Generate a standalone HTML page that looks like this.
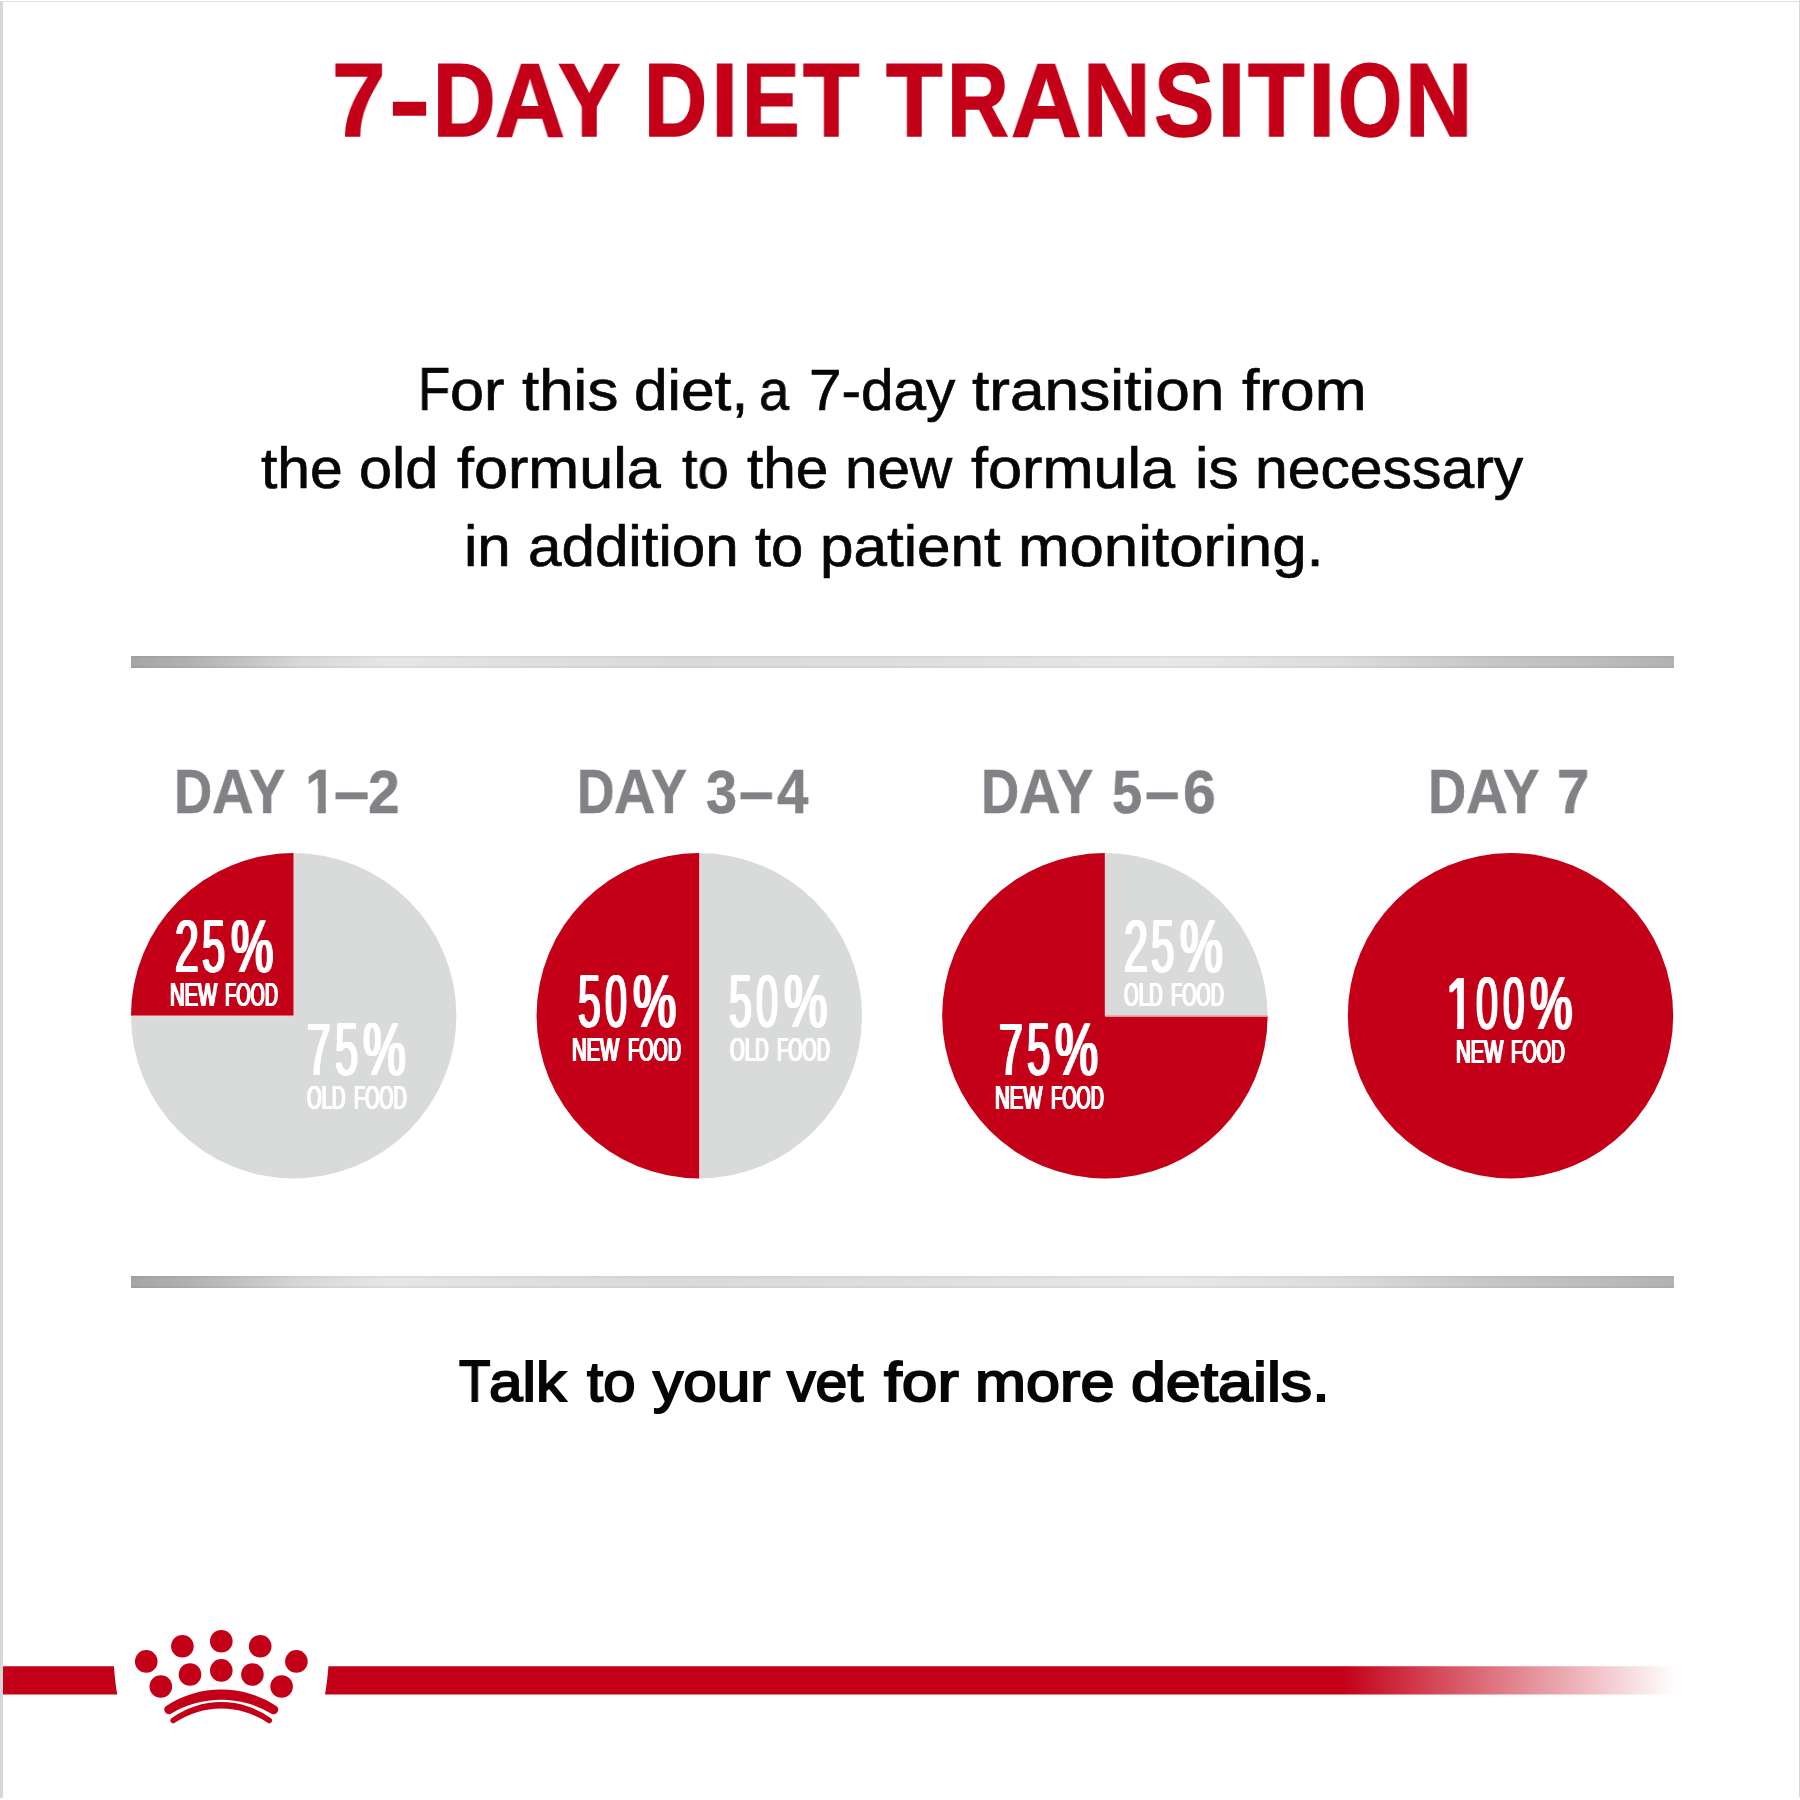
<!DOCTYPE html>
<html><head><meta charset="utf-8"><title>7-Day Diet Transition</title>
<style>
html,body{margin:0;padding:0;background:#fff}
body{width:1800px;height:1800px;position:relative;overflow:hidden;font-family:"Liberation Sans",sans-serif}
.t{will-change:transform;position:absolute;white-space:pre;line-height:1;transform-origin:0 0;font-family:"Liberation Sans",sans-serif}
.rule{position:absolute;left:131px;width:1542.6px;height:12px;background:linear-gradient(180deg,rgba(0,0,0,.045) 0,rgba(0,0,0,.045) 10%,rgba(0,0,0,0) 20%,rgba(0,0,0,0) 80%,rgba(0,0,0,.05) 90%,rgba(0,0,0,.05) 100%),linear-gradient(90deg,#a5a5a8 0%,#b2b2b4 3.8%,#c2c2c4 7.1%,#d8d8d9 11%,#e6e6e6 16.7%,#dfdfdf 25.9%,#dadadb 35.5%,#dedede 49.9%,#e8e8e8 67.2%,#dcdcdc 78.6%,#c8c8c9 87.3%,#babbbd 95.9%,#b2b2b4 100%)}
.g{margin:0;padding:0;font-size:0;line-height:0}
.edge{position:absolute;background:#d9d8d9}
svg{position:absolute;left:0;top:0}
</style></head><body>
<div class="edge" style="left:0;top:1px;width:3px;height:1797px"></div>
<div class="edge" style="left:0;top:1px;width:1800px;height:1px;background:#e2e1e2"></div>
<div class="edge" style="left:1799px;top:0;width:1px;height:1797px"></div>
<div class="rule" style="top:656px"></div>
<div class="rule" style="top:1276px"></div>
<svg width="1800" height="1800" viewBox="0 0 1800 1800">
<defs><linearGradient id="fade" gradientUnits="userSpaceOnUse" x1="1341" x2="1676" y1="0" y2="0"><stop offset="0" stop-color="#c30017"/><stop offset="1" stop-color="#c30017" stop-opacity="0"/></linearGradient></defs>
<circle cx="293.7" cy="1015.7" r="162.7" fill="#d9dada"/><path d="M293.7,1015.7 L131.0,1015.7 A162.7,162.7 0 0 1 293.7,853.0 Z" fill="#c30017"/><path d="M131.0,1016.2 L294.2,1016.2 L294.2,853.0" fill="none" stroke="#f6d5d8" stroke-width="1"/>
<circle cx="699.3" cy="1015.7" r="162.7" fill="#d9dada"/><path d="M699.3,1178.4 A162.7,162.7 0 0 1 699.3,853.0 Z" fill="#c30017"/><path d="M699.8,1178.4 L699.8,853.0" fill="none" stroke="#f6d5d8" stroke-width="1"/>
<circle cx="1104.9" cy="1015.7" r="162.7" fill="#d9dada"/><path d="M1104.9,1015.7 L1267.6000000000001,1015.7 A162.7,162.7 0 1 1 1104.9,853.0 Z" fill="#c30017"/><path d="M1105.4,853.0 L1105.4,1016.2 L1267.6000000000001,1016.2" fill="none" stroke="#f6d5d8" stroke-width="1"/>
<circle cx="1510.5" cy="1015.7" r="162.7" fill="#c30017"/>
<path d="M3,1666.3 L114,1666.3 Q115,1682 117.2,1694.4 L3,1694.4 Z" fill="#c30017"/>
<path d="M328.4,1666.3 L1677,1666.3 L1677,1694.4 L325,1694.4 Q327.3,1682 328.4,1666.3 Z" fill="url(#fade)"/>
<g fill="#c30017"><circle cx="146.25" cy="1661.4" r="11.3"/><circle cx="182.4" cy="1646.25" r="11.3"/><circle cx="221.3" cy="1641.2" r="11.3"/><circle cx="260.2" cy="1646.25" r="11.3"/><circle cx="296.4" cy="1661.4" r="11.3"/><circle cx="160.8" cy="1686.5" r="11.3"/><circle cx="190" cy="1674.5" r="11.3"/><circle cx="221.3" cy="1670.4" r="11.3"/><circle cx="252.4" cy="1674.5" r="11.3"/><circle cx="281.6" cy="1686.5" r="11.3"/>
<path d="M166.2,1705.9 A101.1,101.1 0 0 1 276.3,1705.9 A4.6,4.6 0 0 1 271.5,1713.7 A97.8,97.8 0 0 0 171,1713.7 A4.6,4.6 0 0 1 166.2,1705.9 Z"/>
<path d="M171.6,1718.2 A84.6,84.6 0 0 1 270.9,1718.2 A2.8,2.8 0 0 1 267.7,1722.8 A82.6,82.6 0 0 0 174.8,1722.8 A2.8,2.8 0 0 1 171.6,1718.2 Z"/></g>
</svg>
<h1 class="g"><span class="t" style="left:332.00px;top:49.00px;font-size:103.45px;font-weight:700;color:#c40019;-webkit-text-stroke:1.6px #c40019;transform:scaleX(0.9297)">7</span><span class="t" style="left:389.00px;top:49.00px;font-size:103.45px;font-weight:700;color:#c40019;-webkit-text-stroke:1.6px #c40019;transform:scaleX(1.1950)">-</span><span class="t" style="left:433.00px;top:49.00px;font-size:103.45px;font-weight:700;color:#c40019;-webkit-text-stroke:1.6px #c40019;transform:scaleX(0.8371)">D</span><span class="t" style="left:495.00px;top:49.00px;font-size:103.45px;font-weight:700;color:#c40019;-webkit-text-stroke:1.6px #c40019;transform:scaleX(0.9355)">A</span><span class="t" style="left:558.00px;top:49.00px;font-size:103.45px;font-weight:700;color:#c40019;-webkit-text-stroke:1.6px #c40019;transform:scaleX(0.9053)">Y</span> <span class="t" style="left:644.00px;top:49.00px;font-size:103.45px;font-weight:700;color:#c40019;-webkit-text-stroke:1.6px #c40019;transform:scaleX(0.8458)">D</span><span class="t" style="left:711.00px;top:49.00px;font-size:103.45px;font-weight:700;color:#c40019;-webkit-text-stroke:1.6px #c40019;transform:scaleX(0.9476)">I</span><span class="t" style="left:742.00px;top:49.00px;font-size:103.45px;font-weight:700;color:#c40019;-webkit-text-stroke:1.6px #c40019;transform:scaleX(0.8357)">E</span><span class="t" style="left:803.00px;top:49.00px;font-size:103.45px;font-weight:700;color:#c40019;-webkit-text-stroke:1.6px #c40019;transform:scaleX(0.8947)">T</span> <span class="t" style="left:886.00px;top:49.00px;font-size:103.45px;font-weight:700;color:#c40019;-webkit-text-stroke:1.6px #c40019;transform:scaleX(0.8947)">T</span><span class="t" style="left:947.00px;top:49.00px;font-size:103.45px;font-weight:700;color:#c40019;-webkit-text-stroke:1.6px #c40019;transform:scaleX(0.8256)">R</span><span class="t" style="left:1011.00px;top:49.00px;font-size:103.45px;font-weight:700;color:#c40019;-webkit-text-stroke:1.6px #c40019;transform:scaleX(0.9447)">A</span><span class="t" style="left:1083.00px;top:49.00px;font-size:103.45px;font-weight:700;color:#c40019;-webkit-text-stroke:1.6px #c40019;transform:scaleX(0.9045)">N</span><span class="t" style="left:1154.00px;top:49.00px;font-size:103.45px;font-weight:700;color:#c40019;-webkit-text-stroke:1.6px #c40019;transform:scaleX(0.8742)">S</span><span class="t" style="left:1217.00px;top:49.00px;font-size:103.45px;font-weight:700;color:#c40019;-webkit-text-stroke:1.6px #c40019;transform:scaleX(1.0056)">I</span><span class="t" style="left:1248.00px;top:49.00px;font-size:103.45px;font-weight:700;color:#c40019;-webkit-text-stroke:1.6px #c40019;transform:scaleX(0.8947)">T</span><span class="t" style="left:1308.00px;top:49.00px;font-size:103.45px;font-weight:700;color:#c40019;-webkit-text-stroke:1.6px #c40019;transform:scaleX(0.9476)">I</span><span class="t" style="left:1338.00px;top:49.00px;font-size:103.45px;font-weight:700;color:#c40019;-webkit-text-stroke:1.6px #c40019;transform:scaleX(0.7968)">O</span><span class="t" style="left:1405.00px;top:49.00px;font-size:103.45px;font-weight:700;color:#c40019;-webkit-text-stroke:1.6px #c40019;transform:scaleX(0.9020)">N</span></h1>
<p class="g"><span class="t" style="left:418.00px;top:359.00px;font-size:60.56px;font-weight:400;color:#060606;-webkit-text-stroke:0.7px #060606;transform:scaleX(0.8722)">F</span><span class="t" style="left:450.00px;top:362.00px;font-size:57.20px;font-weight:400;color:#060606;-webkit-text-stroke:0.7px #060606;transform:scaleX(1.0705)">or</span> <span class="t" style="left:522.00px;top:362.00px;font-size:57.20px;font-weight:400;color:#060606;-webkit-text-stroke:0.7px #060606;transform:scaleX(1.0824)">this</span> <span class="t" style="left:634.00px;top:362.00px;font-size:57.20px;font-weight:400;color:#060606;-webkit-text-stroke:0.7px #060606;transform:scaleX(1.0564)">diet,</span> <span class="t" style="left:759.00px;top:362.00px;font-size:57.20px;font-weight:400;color:#060606;-webkit-text-stroke:0.7px #060606;transform:scaleX(0.9500)">a</span> <span class="t" style="left:809.00px;top:362.00px;font-size:57.20px;font-weight:400;color:#060606;-webkit-text-stroke:0.7px #060606;transform:scaleX(1.0230)">7-day</span> <span class="t" style="left:972.00px;top:362.00px;font-size:57.20px;font-weight:400;color:#060606;-webkit-text-stroke:0.7px #060606;transform:scaleX(1.0874)">transition</span> <span class="t" style="left:1242.00px;top:362.00px;font-size:57.20px;font-weight:400;color:#060606;-webkit-text-stroke:0.7px #060606;transform:scaleX(1.0886)">from</span> <span class="t" style="left:261.00px;top:440.00px;font-size:57.20px;font-weight:400;color:#060606;-webkit-text-stroke:0.7px #060606;transform:scaleX(1.0286)">the</span> <span class="t" style="left:359.00px;top:440.00px;font-size:57.20px;font-weight:400;color:#060606;-webkit-text-stroke:0.7px #060606;transform:scaleX(1.0367)">old</span> <span class="t" style="left:457.00px;top:440.00px;font-size:57.20px;font-weight:400;color:#060606;-webkit-text-stroke:0.7px #060606;transform:scaleX(1.0685)">formula</span> <span class="t" style="left:682.00px;top:440.00px;font-size:57.20px;font-weight:400;color:#060606;-webkit-text-stroke:0.7px #060606;transform:scaleX(0.9782)">to</span> <span class="t" style="left:747.00px;top:440.00px;font-size:57.20px;font-weight:400;color:#060606;-webkit-text-stroke:0.7px #060606;transform:scaleX(1.0228)">the</span> <span class="t" style="left:845.00px;top:440.00px;font-size:57.20px;font-weight:400;color:#060606;-webkit-text-stroke:0.7px #060606;transform:scaleX(1.0209)">new</span> <span class="t" style="left:971.00px;top:440.00px;font-size:57.20px;font-weight:400;color:#060606;-webkit-text-stroke:0.7px #060606;transform:scaleX(1.0701)">formula</span> <span class="t" style="left:1195.00px;top:440.00px;font-size:57.20px;font-weight:400;color:#060606;-webkit-text-stroke:0.7px #060606;transform:scaleX(1.0555)">is</span> <span class="t" style="left:1255.00px;top:440.00px;font-size:57.20px;font-weight:400;color:#060606;-webkit-text-stroke:0.7px #060606;transform:scaleX(1.0288)">necessary</span> <span class="t" style="left:464.00px;top:518.00px;font-size:57.20px;font-weight:400;color:#060606;-webkit-text-stroke:0.7px #060606;transform:scaleX(1.0510)">in</span> <span class="t" style="left:528.00px;top:518.00px;font-size:57.20px;font-weight:400;color:#060606;-webkit-text-stroke:0.7px #060606;transform:scaleX(1.0515)">addition</span> <span class="t" style="left:755.00px;top:518.00px;font-size:57.20px;font-weight:400;color:#060606;-webkit-text-stroke:0.7px #060606;transform:scaleX(1.0109)">to</span> <span class="t" style="left:820.00px;top:518.00px;font-size:57.20px;font-weight:400;color:#060606;-webkit-text-stroke:0.7px #060606;transform:scaleX(1.0523)">patient</span> <span class="t" style="left:1018.00px;top:518.00px;font-size:57.20px;font-weight:400;color:#060606;-webkit-text-stroke:0.7px #060606;transform:scaleX(1.0809)">monitoring.</span></p>
<div class="g"><span class="t" style="left:174.00px;top:760.00px;font-size:63.17px;font-weight:700;color:#808285;-webkit-text-stroke:0.6px #808285;transform:scaleX(0.8356)">D</span><span class="t" style="left:212.00px;top:760.00px;font-size:63.17px;font-weight:700;color:#808285;-webkit-text-stroke:0.6px #808285;transform:scaleX(0.9132)">A</span><span class="t" style="left:249.00px;top:760.00px;font-size:63.17px;font-weight:700;color:#808285;-webkit-text-stroke:0.6px #808285;transform:scaleX(0.8624)">Y</span> <span class="t" style="left:305.00px;top:760.00px;font-size:63.17px;font-weight:700;color:#808285;-webkit-text-stroke:0.6px #808285;clip-path:polygon(0 0,67.3% 0,67.3% 100%,40.8% 100%,40.8% 40%,0 40%);transform:scaleX(0.8890)">1</span><span class="t" style="left:334.00px;top:760.00px;font-size:63.17px;font-weight:700;color:#808285;-webkit-text-stroke:0.6px #808285;transform:scaleX(1.0005)">–</span><span class="t" style="left:368.00px;top:761.00px;font-size:61.61px;font-weight:700;color:#808285;-webkit-text-stroke:0.6px #808285;transform:scaleX(0.9249)">2</span> <span class="t" style="left:175.00px;top:910.00px;font-size:74.01px;font-weight:400;color:#fff;text-shadow:1px 0 0 #fff,-1px 0 0 #fff,2px 0 0 #fff,-2px 0 0 #fff;transform:scaleX(0.5776)">2</span><span class="t" style="left:202.00px;top:910.00px;font-size:74.01px;font-weight:400;color:#fff;text-shadow:1px 0 0 #fff,-1px 0 0 #fff,2px 0 0 #fff,-2px 0 0 #fff;transform:scaleX(0.5619)">5</span><span class="t" style="left:231.00px;top:910.00px;font-size:74.01px;font-weight:400;color:#fff;text-shadow:1px 0 0 #fff,-1px 0 0 #fff,2px 0 0 #fff,-2px 0 0 #fff;transform:scaleX(0.6428)">%</span> <span class="t" style="left:170.00px;top:978.00px;font-size:33.94px;font-weight:400;color:#fff;text-shadow:1.5px 0 0 #fff,-1.5px 0 0 #fff,0.75px 0 0 #fff,-0.75px 0 0 #fff,0 0.25px 0 #fff,0 -0.25px 0 #fff;transform:scaleX(0.5958)">NEW</span> <span class="t" style="left:225.00px;top:978.00px;font-size:33.94px;font-weight:400;color:#fff;text-shadow:1.5px 0 0 #fff,-1.5px 0 0 #fff,0.75px 0 0 #fff,-0.75px 0 0 #fff,0 0.25px 0 #fff,0 -0.25px 0 #fff;transform:scaleX(0.5410)">FOOD</span> <span class="t" style="left:307.00px;top:1013.00px;font-size:74.01px;font-weight:400;color:#fff;text-shadow:1px 0 0 #fff,-1px 0 0 #fff,2px 0 0 #fff,-2px 0 0 #fff;transform:scaleX(0.5759)">7</span><span class="t" style="left:335.00px;top:1013.00px;font-size:74.01px;font-weight:400;color:#fff;text-shadow:1px 0 0 #fff,-1px 0 0 #fff,2px 0 0 #fff,-2px 0 0 #fff;transform:scaleX(0.5619)">5</span><span class="t" style="left:363.00px;top:1013.00px;font-size:74.01px;font-weight:400;color:#fff;text-shadow:1px 0 0 #fff,-1px 0 0 #fff,2px 0 0 #fff,-2px 0 0 #fff;transform:scaleX(0.6503)">%</span> <span class="t" style="left:307.00px;top:1081.00px;font-size:33.94px;font-weight:400;color:#fff;text-shadow:1.5px 0 0 #fff,-1.5px 0 0 #fff,0.75px 0 0 #fff,-0.75px 0 0 #fff,0 0.25px 0 #fff,0 -0.25px 0 #fff;transform:scaleX(0.5506)">OLD</span> <span class="t" style="left:354.00px;top:1081.00px;font-size:33.94px;font-weight:400;color:#fff;text-shadow:1.5px 0 0 #fff,-1.5px 0 0 #fff,0.75px 0 0 #fff,-0.75px 0 0 #fff,0 0.25px 0 #fff,0 -0.25px 0 #fff;transform:scaleX(0.5372)">FOOD</span></div>
<div class="g"><span class="t" style="left:577.00px;top:760.00px;font-size:63.17px;font-weight:700;color:#808285;-webkit-text-stroke:0.6px #808285;transform:scaleX(0.8228)">D</span><span class="t" style="left:614.00px;top:760.00px;font-size:63.17px;font-weight:700;color:#808285;-webkit-text-stroke:0.6px #808285;transform:scaleX(0.9057)">A</span><span class="t" style="left:651.00px;top:760.00px;font-size:63.17px;font-weight:700;color:#808285;-webkit-text-stroke:0.6px #808285;transform:scaleX(0.8528)">Y</span> <span class="t" style="left:706.00px;top:761.00px;font-size:61.62px;font-weight:700;color:#808285;-webkit-text-stroke:0.6px #808285;transform:scaleX(0.9062)">3</span><span class="t" style="left:739.00px;top:760.00px;font-size:63.17px;font-weight:700;color:#808285;-webkit-text-stroke:0.6px #808285;transform:scaleX(0.9819)">–</span><span class="t" style="left:777.00px;top:760.00px;font-size:63.17px;font-weight:700;color:#808285;-webkit-text-stroke:0.6px #808285;transform:scaleX(0.8964)">4</span> <span class="t" style="left:578.00px;top:965.00px;font-size:74.01px;font-weight:400;color:#fff;text-shadow:1px 0 0 #fff,-1px 0 0 #fff,2px 0 0 #fff,-2px 0 0 #fff;transform:scaleX(0.5523)">5</span><span class="t" style="left:605.00px;top:965.00px;font-size:74.01px;font-weight:400;color:#fff;text-shadow:1px 0 0 #fff,-1px 0 0 #fff,2px 0 0 #fff,-2px 0 0 #fff;transform:scaleX(0.5347)">0</span><span class="t" style="left:633.00px;top:965.00px;font-size:74.01px;font-weight:400;color:#fff;text-shadow:1px 0 0 #fff,-1px 0 0 #fff,2px 0 0 #fff,-2px 0 0 #fff;transform:scaleX(0.6564)">%</span> <span class="t" style="left:572.00px;top:1033.00px;font-size:33.94px;font-weight:400;color:#fff;text-shadow:1.5px 0 0 #fff,-1.5px 0 0 #fff,0.75px 0 0 #fff,-0.75px 0 0 #fff,0 0.25px 0 #fff,0 -0.25px 0 #fff;transform:scaleX(0.5958)">NEW</span> <span class="t" style="left:628.00px;top:1033.00px;font-size:33.94px;font-weight:400;color:#fff;text-shadow:1.5px 0 0 #fff,-1.5px 0 0 #fff,0.75px 0 0 #fff,-0.75px 0 0 #fff,0 0.25px 0 #fff,0 -0.25px 0 #fff;transform:scaleX(0.5410)">FOOD</span> <span class="t" style="left:729.00px;top:965.00px;font-size:74.01px;font-weight:400;color:#fff;text-shadow:1px 0 0 #fff,-1px 0 0 #fff,2px 0 0 #fff,-2px 0 0 #fff;transform:scaleX(0.5575)">5</span><span class="t" style="left:756.00px;top:965.00px;font-size:74.01px;font-weight:400;color:#fff;text-shadow:1px 0 0 #fff,-1px 0 0 #fff,2px 0 0 #fff,-2px 0 0 #fff;transform:scaleX(0.5361)">0</span><span class="t" style="left:784.00px;top:965.00px;font-size:74.01px;font-weight:400;color:#fff;text-shadow:1px 0 0 #fff,-1px 0 0 #fff,2px 0 0 #fff,-2px 0 0 #fff;transform:scaleX(0.6584)">%</span> <span class="t" style="left:730.00px;top:1033.00px;font-size:33.94px;font-weight:400;color:#fff;text-shadow:1.5px 0 0 #fff,-1.5px 0 0 #fff,0.75px 0 0 #fff,-0.75px 0 0 #fff,0 0.25px 0 #fff,0 -0.25px 0 #fff;transform:scaleX(0.5546)">OLD</span> <span class="t" style="left:777.00px;top:1033.00px;font-size:33.94px;font-weight:400;color:#fff;text-shadow:1.5px 0 0 #fff,-1.5px 0 0 #fff,0.75px 0 0 #fff,-0.75px 0 0 #fff,0 0.25px 0 #fff,0 -0.25px 0 #fff;transform:scaleX(0.5396)">FOOD</span></div>
<div class="g"><span class="t" style="left:981.00px;top:760.00px;font-size:63.17px;font-weight:700;color:#808285;-webkit-text-stroke:0.6px #808285;transform:scaleX(0.8356)">D</span><span class="t" style="left:1019.00px;top:760.00px;font-size:63.17px;font-weight:700;color:#808285;-webkit-text-stroke:0.6px #808285;transform:scaleX(0.9132)">A</span><span class="t" style="left:1057.00px;top:760.00px;font-size:63.17px;font-weight:700;color:#808285;-webkit-text-stroke:0.6px #808285;transform:scaleX(0.8624)">Y</span> <span class="t" style="left:1112.00px;top:761.00px;font-size:61.62px;font-weight:700;color:#808285;-webkit-text-stroke:0.6px #808285;transform:scaleX(0.8754)">5</span><span class="t" style="left:1145.00px;top:760.00px;font-size:63.17px;font-weight:700;color:#808285;-webkit-text-stroke:0.6px #808285;transform:scaleX(0.9760)">–</span><span class="t" style="left:1183.00px;top:761.00px;font-size:61.62px;font-weight:700;color:#808285;-webkit-text-stroke:0.6px #808285;transform:scaleX(0.9562)">6</span> <span class="t" style="left:1124.00px;top:910.00px;font-size:74.01px;font-weight:400;color:#fff;text-shadow:1px 0 0 #fff,-1px 0 0 #fff,2px 0 0 #fff,-2px 0 0 #fff;transform:scaleX(0.5816)">2</span><span class="t" style="left:1151.00px;top:910.00px;font-size:74.01px;font-weight:400;color:#fff;text-shadow:1px 0 0 #fff,-1px 0 0 #fff,2px 0 0 #fff,-2px 0 0 #fff;transform:scaleX(0.5664)">5</span><span class="t" style="left:1180.00px;top:910.00px;font-size:74.01px;font-weight:400;color:#fff;text-shadow:1px 0 0 #fff,-1px 0 0 #fff,2px 0 0 #fff,-2px 0 0 #fff;transform:scaleX(0.6512)">%</span> <span class="t" style="left:1124.00px;top:978.00px;font-size:33.94px;font-weight:400;color:#fff;text-shadow:1.5px 0 0 #fff,-1.5px 0 0 #fff,0.75px 0 0 #fff,-0.75px 0 0 #fff,0 0.25px 0 #fff,0 -0.25px 0 #fff;transform:scaleX(0.5546)">OLD</span> <span class="t" style="left:1171.00px;top:978.00px;font-size:33.94px;font-weight:400;color:#fff;text-shadow:1.5px 0 0 #fff,-1.5px 0 0 #fff,0.75px 0 0 #fff,-0.75px 0 0 #fff,0 0.25px 0 #fff,0 -0.25px 0 #fff;transform:scaleX(0.5396)">FOOD</span> <span class="t" style="left:999.00px;top:1013.00px;font-size:74.01px;font-weight:400;color:#fff;text-shadow:1px 0 0 #fff,-1px 0 0 #fff,2px 0 0 #fff,-2px 0 0 #fff;transform:scaleX(0.5793)">7</span><span class="t" style="left:1027.00px;top:1013.00px;font-size:74.01px;font-weight:400;color:#fff;text-shadow:1px 0 0 #fff,-1px 0 0 #fff,2px 0 0 #fff,-2px 0 0 #fff;transform:scaleX(0.5647)">5</span><span class="t" style="left:1055.00px;top:1013.00px;font-size:74.01px;font-weight:400;color:#fff;text-shadow:1px 0 0 #fff,-1px 0 0 #fff,2px 0 0 #fff,-2px 0 0 #fff;transform:scaleX(0.6533)">%</span> <span class="t" style="left:995.00px;top:1081.00px;font-size:33.94px;font-weight:400;color:#fff;text-shadow:1.5px 0 0 #fff,-1.5px 0 0 #fff,0.75px 0 0 #fff,-0.75px 0 0 #fff,0 0.25px 0 #fff,0 -0.25px 0 #fff;transform:scaleX(0.5986)">NEW</span> <span class="t" style="left:1051.00px;top:1081.00px;font-size:33.94px;font-weight:400;color:#fff;text-shadow:1.5px 0 0 #fff,-1.5px 0 0 #fff,0.75px 0 0 #fff,-0.75px 0 0 #fff,0 0.25px 0 #fff,0 -0.25px 0 #fff;transform:scaleX(0.5396)">FOOD</span></div>
<div class="g"><span class="t" style="left:1428.00px;top:760.00px;font-size:63.17px;font-weight:700;color:#808285;-webkit-text-stroke:0.6px #808285;transform:scaleX(0.8384)">D</span><span class="t" style="left:1466.00px;top:760.00px;font-size:63.17px;font-weight:700;color:#808285;-webkit-text-stroke:0.6px #808285;transform:scaleX(0.9150)">A</span><span class="t" style="left:1503.00px;top:760.00px;font-size:63.17px;font-weight:700;color:#808285;-webkit-text-stroke:0.6px #808285;transform:scaleX(0.8645)">Y</span> <span class="t" style="left:1557.00px;top:760.00px;font-size:63.17px;font-weight:700;color:#808285;-webkit-text-stroke:0.6px #808285;transform:scaleX(0.9176)">7</span> <span class="t" style="left:1446.00px;top:967.00px;font-size:74.01px;font-weight:400;color:#fff;text-shadow:1px 0 0 #fff,-1px 0 0 #fff,2px 0 0 #fff,-2px 0 0 #fff;clip-path:polygon(-5% 0,65.2% 0,65.2% 100%,40.9% 100%,40.9% 37%,-5% 37%);transform:scaleX(0.6657)">1</span><span class="t" style="left:1476.00px;top:967.00px;font-size:74.01px;font-weight:400;color:#fff;text-shadow:1px 0 0 #fff,-1px 0 0 #fff,2px 0 0 #fff,-2px 0 0 #fff;transform:scaleX(0.5347)">0</span><span class="t" style="left:1503.00px;top:967.00px;font-size:74.01px;font-weight:400;color:#fff;text-shadow:1px 0 0 #fff,-1px 0 0 #fff,2px 0 0 #fff,-2px 0 0 #fff;transform:scaleX(0.5215)">0</span><span class="t" style="left:1530.00px;top:967.00px;font-size:74.01px;font-weight:400;color:#fff;text-shadow:1px 0 0 #fff,-1px 0 0 #fff,2px 0 0 #fff,-2px 0 0 #fff;transform:scaleX(0.6442)">%</span> <span class="t" style="left:1456.00px;top:1035.00px;font-size:33.94px;font-weight:400;color:#fff;text-shadow:1.5px 0 0 #fff,-1.5px 0 0 #fff,0.75px 0 0 #fff,-0.75px 0 0 #fff,0 0.25px 0 #fff,0 -0.25px 0 #fff;transform:scaleX(0.5980)">NEW</span> <span class="t" style="left:1511.00px;top:1035.00px;font-size:33.94px;font-weight:400;color:#fff;text-shadow:1.5px 0 0 #fff,-1.5px 0 0 #fff,0.75px 0 0 #fff,-0.75px 0 0 #fff,0 0.25px 0 #fff,0 -0.25px 0 #fff;transform:scaleX(0.5470)">FOOD</span></div>
<p class="g"><span class="t" style="left:459.00px;top:1352.00px;font-size:58.13px;font-weight:400;color:#060606;-webkit-text-stroke:1.9px #060606;transform:scaleX(0.8873)">T</span><span class="t" style="left:489.00px;top:1354.00px;font-size:56.00px;font-weight:400;color:#060606;-webkit-text-stroke:1.9px #060606;transform:scaleX(1.0788)">alk</span> <span class="t" style="left:587.00px;top:1354.00px;font-size:56.00px;font-weight:400;color:#060606;-webkit-text-stroke:1.9px #060606;transform:scaleX(1.0370)">to</span> <span class="t" style="left:653.00px;top:1354.00px;font-size:56.00px;font-weight:400;color:#060606;-webkit-text-stroke:1.9px #060606;transform:scaleX(1.0766)">your</span> <span class="t" style="left:787.00px;top:1354.00px;font-size:56.00px;font-weight:400;color:#060606;-webkit-text-stroke:1.9px #060606;transform:scaleX(1.0214)">vet</span> <span class="t" style="left:884.00px;top:1354.00px;font-size:56.00px;font-weight:400;color:#060606;-webkit-text-stroke:1.9px #060606;transform:scaleX(1.1442)">for</span> <span class="t" style="left:975.00px;top:1354.00px;font-size:56.00px;font-weight:400;color:#060606;-webkit-text-stroke:1.9px #060606;transform:scaleX(1.0927)">more</span> <span class="t" style="left:1131.00px;top:1354.00px;font-size:56.00px;font-weight:400;color:#060606;-webkit-text-stroke:1.9px #060606;transform:scaleX(1.1191)">details.</span></p>

</body></html>
